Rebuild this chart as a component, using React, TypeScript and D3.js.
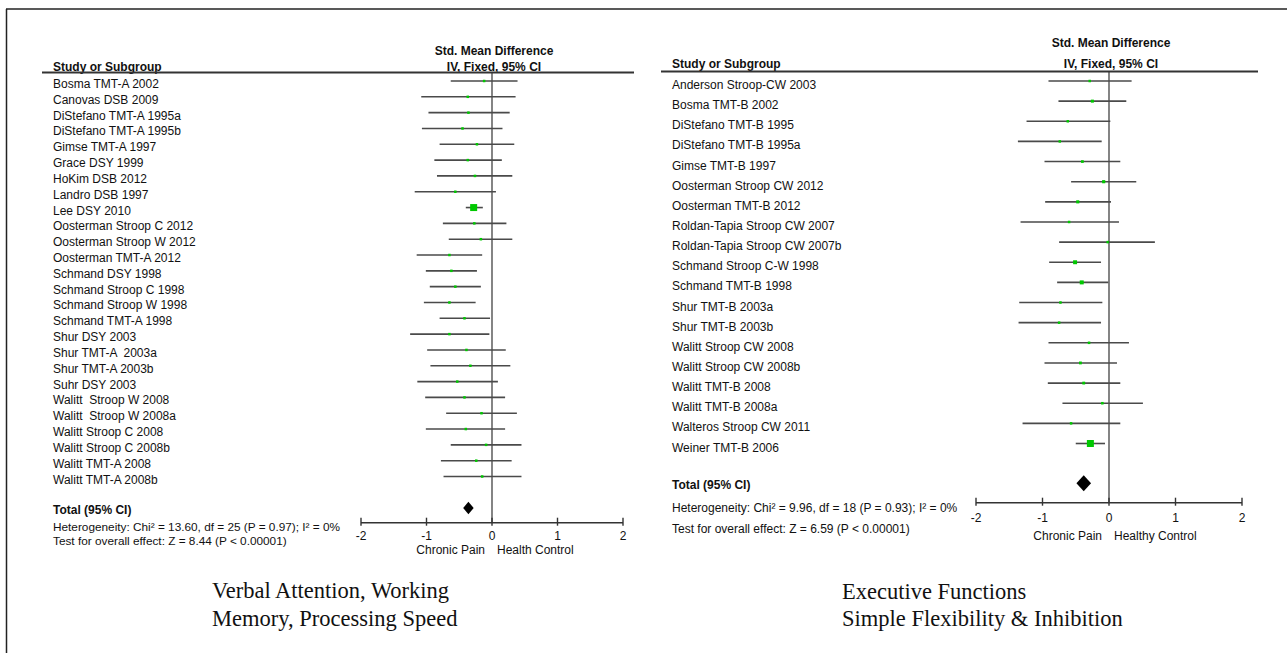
import React from "react";
import * as d3 from "d3";

// ---- left panel: verbal attention / working memory / processing speed
const leftStudies = [
  "Bosma TMT-A 2002", "Canovas DSB 2009", "DiStefano TMT-A 1995a", "DiStefano TMT-A 1995b",
  "Gimse TMT-A 1997", "Grace DSY 1999", "HoKim DSB 2012", "Landro DSB 1997", "Lee DSY 2010",
  "Oosterman Stroop C 2012", "Oosterman Stroop W 2012", "Oosterman TMT-A 2012", "Schmand DSY 1998",
  "Schmand Stroop C 1998", "Schmand Stroop W 1998", "Schmand TMT-A 1998", "Shur DSY 2003",
  "Shur TMT-A  2003a", "Shur TMT-A 2003b", "Suhr DSY 2003", "Walitt  Stroop W 2008",
  "Walitt  Stroop W 2008a", "Walitt Stroop C 2008", "Walitt Stroop C 2008b", "Walitt TMT-A 2008",
  "Walitt TMT-A 2008b",
];
const leftLower = [-0.63, -1.08, -0.97, -1.07, -0.8, -0.88, -0.84, -1.18, -0.4, -0.75, -0.66, -1.15, -1.01, -0.95, -1.04, -0.8, -1.25, -0.99, -0.94, -1.14, -1.02, -0.7, -1.01, -0.63, -0.78, -0.74];
const leftEst = [-0.12, -0.37, -0.36, -0.45, -0.23, -0.37, -0.26, -0.56, -0.28, -0.27, -0.17, -0.65, -0.62, -0.56, -0.65, -0.42, -0.65, -0.39, -0.33, -0.53, -0.42, -0.16, -0.4, -0.09, -0.24, -0.15];
const leftUpper = [0.39, 0.36, 0.27, 0.16, 0.34, 0.15, 0.31, 0.06, -0.14, 0.22, 0.31, -0.15, -0.23, -0.17, -0.25, -0.03, -0.04, 0.21, 0.28, 0.09, 0.2, 0.38, 0.2, 0.45, 0.3, 0.45];
const leftTotal = [-0.44, -0.36, -0.28];
const leftStats = [
  "Heterogeneity: Chi² = 13.60, df = 25 (P = 0.97); I² = 0%",
  "Test for overall effect: Z = 8.44 (P < 0.00001)",
];
const leftFavours = ["Chronic Pain", "Health Control"];
const leftCaption = ["Verbal Attention, Working", "Memory, Processing Speed"];

// ---- right panel: executive functions
const rightStudies = [
  "Anderson Stroop-CW 2003", "Bosma TMT-B 2002", "DiStefano TMT-B 1995", "DiStefano TMT-B 1995a",
  "Gimse TMT-B 1997", "Oosterman Stroop CW 2012", "Oosterman TMT-B 2012", "Roldan-Tapia Stroop CW 2007",
  "Roldan-Tapia Stroop CW 2007b", "Schmand Stroop C-W 1998", "Schmand TMT-B 1998", "Shur TMT-B 2003a",
  "Shur TMT-B 2003b", "Walitt Stroop CW 2008", "Walitt Stroop CW 2008b", "Walitt TMT-B 2008",
  "Walitt TMT-B 2008a", "Walteros Stroop CW 2011", "Weiner TMT-B 2006",
];
const rightLower = [-0.91, -0.76, -1.24, -1.37, -0.97, -0.57, -0.96, -1.33, -0.75, -0.9, -0.78, -1.35, -1.36, -0.91, -0.97, -0.92, -0.7, -1.3, -0.5];
const rightEst = [-0.29, -0.25, -0.62, -0.74, -0.4, -0.08, -0.47, -0.6, -0.02, -0.51, -0.41, -0.73, -0.75, -0.3, -0.43, -0.38, -0.1, -0.57, -0.28];
const rightUpper = [0.34, 0.26, 0.02, -0.11, 0.17, 0.41, 0.03, 0.15, 0.69, -0.12, -0.01, -0.1, -0.12, 0.3, 0.12, 0.17, 0.51, 0.17, -0.06];
const rightTotal = [-0.49, -0.38, -0.27];
const rightStats = [
  "Heterogeneity: Chi² = 9.96, df = 18 (P = 0.93); I² = 0%",
  "Test for overall effect: Z = 6.59 (P < 0.00001)",
];
const rightFavours = ["Chronic Pain", "Healthy Control"];
const rightCaption = ["Executive Functions", "Simple Flexibility & Inhibition"];

const axisTicks = [-2, -1, 0, 1, 2];

const SANS = "'Liberation Sans', Arial, sans-serif";
const SERIF = "'Liberation Serif', 'Times New Roman', serif";
const GREEN = "#00c800";

type Layout = {
  labelX: number; lineX0: number; lineX1: number; headLineY: number;
  head1Y: number; head2Y: number; xRange: [number, number];
  rowTop: number; rowBottom: number; textDy: number;
  diamondY: number; diamondH: number; axisY: number; tickDy: number; favoursDy: number;
  totalY: number; stat1Y: number; stat2Y: number; statFont: number;
  captionX: number; captionY: [number, number];
};

const leftLayout: Layout = {
  labelX: 53, lineX0: 42, lineX1: 634, headLineY: 72.5, head1Y: 55, head2Y: 70.5,
  xRange: [361, 623], rowTop: 81, rowBottom: 476.5, textDy: 7,
  diamondY: 508, diamondH: 6.2, axisY: 522.7, tickDy: 17.5, favoursDy: 31,
  totalY: 514, stat1Y: 531, stat2Y: 545, statFont: 11.8,
  captionX: 212, captionY: [598, 626],
};
const rightLayout: Layout = {
  labelX: 672, lineX0: 661, lineX1: 1258, headLineY: 71.5, head1Y: 47, head2Y: 67.5,
  xRange: [976, 1242], rowTop: 81, rowBottom: 443.5, textDy: 8,
  diamondY: 483.3, diamondH: 8, axisY: 502.7, tickDy: 19, favoursDy: 37.6,
  totalY: 488.5, stat1Y: 512.3, stat2Y: 533.3, statFont: 12,
  captionX: 842, captionY: [599, 626],
};

type PanelProps = {
  studies: string[]; lower: number[]; est: number[]; upper: number[];
  total: number[]; stats: string[]; favours: string[]; caption: string[]; L: Layout;
};

const ForestPanel = ({ studies, lower, est, upper, total, stats, favours, caption, L }: PanelProps) => {
  const x = d3.scaleLinear().domain([-2, 2]).range(L.xRange);
  const y = d3.scalePoint<string>().domain(studies).range([L.rowTop, L.rowBottom]);
  // square size from precision (fixed effect weight)
  const prec = studies.map((_, i) => 1 / (upper[i] - lower[i]));
  const size = d3.scaleLinear().domain([0, d3.max(prec) as number]).range([0, 7]);
  const [tLo, tMid, tHi] = total;
  const diamond = d3.line()([
    [x(tLo), L.diamondY], [x(tMid), L.diamondY - L.diamondH],
    [x(tHi), L.diamondY], [x(tMid), L.diamondY + L.diamondH],
  ]) + "Z";

  return (
    <g>
      <text x={x(0) + 2} y={L.head1Y} textAnchor="middle" fontWeight="bold" fontSize={12}>Std. Mean Difference</text>
      <text x={x(0) + 2} y={L.head2Y} textAnchor="middle" fontWeight="bold" fontSize={12}>IV, Fixed, 95% CI</text>
      <text x={L.labelX} y={L.head2Y} fontWeight="bold" fontSize={12}>Study or Subgroup</text>
      <line x1={L.lineX0} x2={L.lineX1} y1={L.headLineY} y2={L.headLineY} stroke="#333" strokeWidth={1.8} />

      {/* line of no effect */}
      <line x1={x(0)} x2={x(0)} y1={L.headLineY} y2={L.axisY} stroke="#333" strokeWidth={1.2} />

      {studies.map((s, i) => {
        const yy = y(s) as number;
        const sz = Math.max(2.5, size(prec[i]));
        return (
          <g key={s}>
            <text x={L.labelX} y={yy + L.textDy} fontSize={12} style={{ whiteSpace: "pre" }}>{s}</text>
            <line x1={x(lower[i])} x2={x(upper[i])} y1={yy} y2={yy} stroke="#4a4a4a" strokeWidth={1.6} />
            <rect x={x(est[i]) - sz / 2} y={yy - sz / 2} width={sz} height={sz} fill={GREEN} />
          </g>
        );
      })}

      <text x={L.labelX} y={L.totalY} fontWeight="bold" fontSize={12}>Total (95% CI)</text>
      <path d={diamond} fill="#000" />
      <text x={L.labelX} y={L.stat1Y} fontSize={L.statFont}>{stats[0]}</text>
      <text x={L.labelX} y={L.stat2Y} fontSize={L.statFont}>{stats[1]}</text>

      {/* axis */}
      <line x1={x(-2)} x2={x(2)} y1={L.axisY} y2={L.axisY} stroke="#333" strokeWidth={1.6} />
      {axisTicks.map(t => (
        <g key={t}>
          <line x1={x(t)} x2={x(t)} y1={L.axisY - 5} y2={L.axisY + 3} stroke="#333" strokeWidth={1.4} />
          <text x={x(t)} y={L.axisY + L.tickDy} textAnchor="middle" fontSize={12}>{t}</text>
        </g>
      ))}
      <text x={x(0) - 7} y={L.axisY + L.favoursDy} textAnchor="end" fontSize={12}>{favours[0]}</text>
      <text x={x(0) + 5} y={L.axisY + L.favoursDy} fontSize={12}>{favours[1]}</text>

      {caption.map((c, i) => (
        <text key={c} x={L.captionX} y={L.captionY[i]} fontFamily={SERIF} fontSize={22.5}>{c}</text>
      ))}
    </g>
  );
};

export default function App() {
  return (
    <div style={{ position: "absolute", left: 0, top: 0 }}>
      <svg width={1287} height={653} fontFamily={SANS} fill="#111" style={{ display: "block", background: "#fff" }}>
        <line x1={6} x2={1287} y1={9} y2={9} stroke="#222" strokeWidth={1.5} />
        <line x1={6.5} x2={6.5} y1={9} y2={653} stroke="#222" strokeWidth={1.5} />
        <ForestPanel studies={leftStudies} lower={leftLower} est={leftEst} upper={leftUpper}
          total={leftTotal} stats={leftStats} favours={leftFavours} caption={leftCaption} L={leftLayout} />
        <ForestPanel studies={rightStudies} lower={rightLower} est={rightEst} upper={rightUpper}
          total={rightTotal} stats={rightStats} favours={rightFavours} caption={rightCaption} L={rightLayout} />
      </svg>
    </div>
  );
}
